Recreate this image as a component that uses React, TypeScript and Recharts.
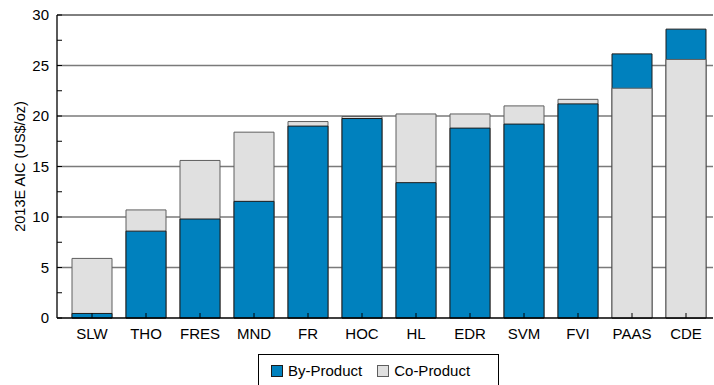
import { Bar, BarChart, CartesianGrid, Cell, ReferenceLine, XAxis, YAxis } from 'recharts';

const categories = ['SLW', 'THO', 'FRES', 'MND', 'FR', 'HOC', 'HL', 'EDR', 'SVM', 'FVI', 'PAAS', 'CDE'];
const byProduct = [0.45, 8.6, 9.8, 11.55, 19.0, 19.75, 13.4, 18.8, 19.2, 21.2, 26.15, 28.6];
const coProduct = [5.9, 10.7, 15.6, 18.4, 19.45, 19.95, 20.2, 20.2, 21.0, 21.65, 22.75, 25.6];
const yTicks = [0, 2.5, 5, 7.5, 10, 12.5, 15, 17.5, 20, 22.5, 25, 27.5, 30];
const gridValues = [5, 10, 15, 20, 25];

const BLUE = '#0081be';
const GREY = '#e0e0e0';
const BLUE_EDGE = '#1c1c1c';
const GREY_EDGE = '#5e5e5e';
const FONT = '"Liberation Sans", Arial, sans-serif';
const Y_MARGIN = 8;
const X_MARGIN = 10;

// the taller of the two values sits behind, the shorter is drawn over it
const rows = categories.map((name, i) => {
  const byTaller = byProduct[i] >= coProduct[i];
  return {
    name,
    back: Math.max(byProduct[i], coProduct[i]),
    front: Math.min(byProduct[i], coProduct[i]),
    byTaller,
  };
});

function YTick(props: any) {
  const { x, y, payload } = props;
  const ax = x + Y_MARGIN;
  return (
    <g>
      <line x1={ax} x2={ax + 5} y1={y} y2={y} stroke="#000" strokeWidth={1} />
      {payload.value % 5 === 0 && (
        <text x={x} y={y} dy="0.355em" textAnchor="end" fontSize={15} fontFamily={FONT} fill="#000">
          {payload.value}
        </text>
      )}
    </g>
  );
}

function XTick(props: any) {
  const { x, y, payload } = props;
  const ay = y - X_MARGIN;
  return (
    <g>
      <line x1={x} x2={x} y1={ay} y2={ay - 5} stroke="#000" strokeWidth={1} />
      <text x={x} y={y} dy="0.71em" textAnchor="middle" fontSize={15} fontFamily={FONT} fill="#000">
        {payload.value}
      </text>
    </g>
  );
}

function Swatch({ color, edge }: { color: string; edge: string }) {
  return (
    <span
      style={{
        display: 'inline-block',
        width: 12,
        height: 12,
        boxSizing: 'border-box',
        background: color,
        border: `1px solid ${edge}`,
        marginRight: 5,
      }}
    />
  );
}

export default function App() {
  return (
    <div style={{ position: 'absolute', left: 0, top: 0, width: 714, height: 385, background: '#fff', overflow: 'hidden' }}>
      <BarChart
        width={714}
        height={385}
        data={rows}
        margin={{ top: 15, right: 1, bottom: 37, left: 0 }}
        barSize={40}
      >
        <CartesianGrid vertical={false} horizontalValues={gridValues} stroke="#7a7a7a" strokeWidth={1.3} yAxisId="y" xAxisId="back" />
        <ReferenceLine y={30} yAxisId="y" xAxisId="back" stroke="#000" strokeWidth={1} />
        <Bar dataKey="back" xAxisId="back" yAxisId="y" isAnimationActive={false}>
          {rows.map((r) => (
            <Cell key={r.name} fill={r.byTaller ? BLUE : GREY} stroke={r.byTaller ? BLUE_EDGE : GREY_EDGE} strokeWidth={1} />
          ))}
        </Bar>
        <Bar dataKey="front" xAxisId="front" yAxisId="y" isAnimationActive={false}>
          {rows.map((r) => (
            <Cell key={r.name} fill={r.byTaller ? GREY : BLUE} stroke={r.byTaller ? GREY_EDGE : BLUE_EDGE} strokeWidth={1} />
          ))}
        </Bar>
        <XAxis
          xAxisId="back"
          dataKey="name"
          height={30}
          padding={{ left: 8, right: 0 }}
          axisLine={{ stroke: '#000', strokeWidth: 1.3 }}
          tickLine={false}
          tickSize={0}
          tickMargin={X_MARGIN}
          interval={0}
          tick={<XTick />}
        />
        <XAxis xAxisId="front" dataKey="name" hide padding={{ left: 8, right: 0 }} />
        <YAxis
          yAxisId="y"
          width={57}
          domain={[0, 30]}
          ticks={yTicks}
          interval={0}
          axisLine={{ stroke: '#000', strokeWidth: 1.3 }}
          tickLine={false}
          tickSize={0}
          tickMargin={Y_MARGIN}
          tick={<YTick />}
          label={{
            value: '2013E AIC (US$/oz)',
            angle: -90,
            position: 'insideLeft',
            offset: 20,
            style: { textAnchor: 'middle', fontSize: 14.5, fontFamily: FONT, fill: '#000' },
          }}
        />
      </BarChart>
      <div
        style={{
          position: 'absolute',
          left: 258,
          top: 354,
          width: 241,
          height: 40,
          boxSizing: 'border-box',
          border: '1px solid #000',
          background: '#fff',
          display: 'flex',
          alignItems: 'center',
          paddingLeft: 12,
          paddingBottom: 9,
          paddingTop: 2,
          fontFamily: FONT,
          fontSize: 15,
          color: '#000',
          lineHeight: '15px',
        }}
      >
        <Swatch color={BLUE} edge={BLUE_EDGE} />
        <span style={{ marginRight: 15 }}>By-Product</span>
        <Swatch color={GREY} edge={GREY_EDGE} />
        <span>Co-Product</span>
      </div>
    </div>
  );
}
